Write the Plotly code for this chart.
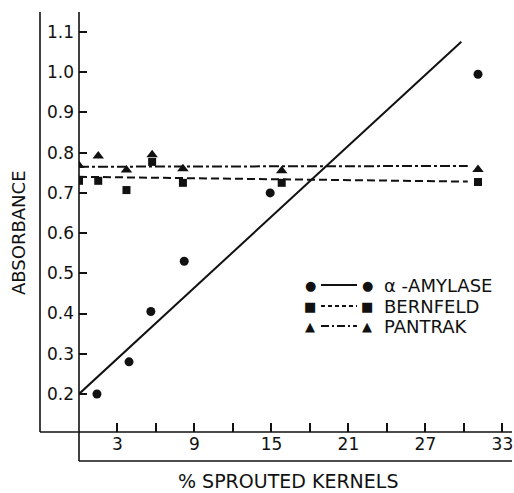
import plotly.graph_objects as go

# ---- data ----
amylase_x = [1.4, 3.9, 5.6, 8.2, 14.9, 31.1]
amylase_y = [0.20, 0.28, 0.405, 0.53, 0.70, 0.995]
amylase_fit_x = [0.0, 29.8]
amylase_fit_y = [0.20, 1.076]

bernfeld_x = [0.0, 1.5, 3.7, 5.7, 8.1, 15.8, 31.1]
bernfeld_y = [0.73, 0.73, 0.707, 0.777, 0.725, 0.725, 0.727]
bernfeld_fit_x = [0.0, 30.3]
bernfeld_fit_y = [0.740, 0.728]

pantrak_x = [0.0, 1.5, 3.7, 5.7, 8.1, 15.8, 31.1]
pantrak_y = [0.768, 0.792, 0.757, 0.795, 0.76, 0.755, 0.758]
pantrak_fit_x = [0.0, 30.3]
pantrak_fit_y = [0.765, 0.767]

x_tick_vals = [3, 6, 9, 12, 15, 18, 21, 24, 27, 30, 33]
x_tick_text = ["3", "", "9", "", "15", "", "21", "", "27", "", "33"]
y_tick_vals = [0.2, 0.3, 0.4, 0.5, 0.6, 0.7, 0.8, 0.9, 1.0, 1.1]
y_tick_text = ["0.2", "0.3", "0.4", "0.5", "0.6", "0.7", "0.8", "0.9", "1.0", "1.1"]

legend_names = ["\u03b1 -AMYLASE", "BERNFELD", "PANTRAK"]

# ---- layout geometry (pixels) ----
W, H = 514, 493
L, R, T, B = 79, 2, 12, 61
PW, PH = W - L - R, H - T - B
X_SCALE = 12.83  # px per x unit

def px(xp):
    return (xp - L) / PW

def py(yp):
    return (H - B - yp) / PH

FONT = "DejaVu Sans"
BLACK = "#111111"

fig = go.Figure()

fig.add_trace(go.Scatter(x=amylase_fit_x, y=amylase_fit_y, mode="lines",
                         line=dict(color=BLACK, width=2), showlegend=False))
fig.add_trace(go.Scatter(x=bernfeld_fit_x, y=bernfeld_fit_y, mode="lines",
                         line=dict(color=BLACK, width=2, dash="8px,4px"), showlegend=False))
fig.add_trace(go.Scatter(x=pantrak_fit_x, y=pantrak_fit_y, mode="lines",
                         line=dict(color=BLACK, width=2, dash="10px,3px,3px,3px"), showlegend=False))

fig.add_trace(go.Scatter(x=amylase_x, y=amylase_y, mode="markers",
                         marker=dict(symbol="circle", size=9, color=BLACK), showlegend=False))
fig.add_trace(go.Scatter(x=bernfeld_x, y=bernfeld_y, mode="markers",
                         marker=dict(symbol="square", size=8, color=BLACK), showlegend=False))
fig.add_trace(go.Scatter(x=pantrak_x, y=pantrak_y, mode="markers",
                         marker=dict(symbol="triangle-up", size=10, color=BLACK), showlegend=False))

shapes = []
# outer frame lines (drafting-style boxes for tick labels)
lw = 1.6
shapes.append(dict(type="line", xref="paper", yref="paper",
                   x0=px(40), x1=px(40), y0=py(432), y1=py(12),
                   line=dict(color=BLACK, width=lw)))
shapes.append(dict(type="line", xref="paper", yref="paper",
                   x0=px(40), x1=px(512), y0=py(432), y1=py(432),
                   line=dict(color=BLACK, width=lw)))
shapes.append(dict(type="line", xref="paper", yref="paper",
                   x0=px(79), x1=px(79), y0=py(461), y1=py(12),
                   line=dict(color=BLACK, width=lw)))
shapes.append(dict(type="line", xref="paper", yref="paper",
                   x0=px(79), x1=px(512), y0=py(461), y1=py(461),
                   line=dict(color=BLACK, width=lw)))

# custom legend
rows = [285, 306, 326]
dashes = ["solid", "4px,3px", "8px,3px,2px,3px"]
symbols = [("\u25cf", "\u25cf"), ("\u25a0", "\u25a0"), ("\u25b2", "\u25b2")]
annotations = []
for ry, d, (s1, s2), name in zip(rows, dashes, symbols, legend_names):
    shapes.append(dict(type="line", xref="paper", yref="paper",
                       x0=px(321), x1=px(357), y0=py(ry), y1=py(ry),
                       line=dict(color=BLACK, width=2, dash=d)))
    for xx, s in ((310, s1), (367, s2)):
        annotations.append(dict(xref="paper", yref="paper", x=px(xx), y=py(ry),
                                text=s, showarrow=False, xanchor="center", yanchor="middle",
                                font=dict(family=FONT, size=13, color=BLACK)))
    annotations.append(dict(xref="paper", yref="paper", x=px(382), y=py(ry),
                            text=name, showarrow=False, xanchor="left", yanchor="middle",
                            font=dict(family=FONT, size=18, color=BLACK)))

annotations.append(dict(xref="paper", yref="paper", x=px(18), y=py(232),
                        text="ABSORBANCE", showarrow=False, textangle=-90,
                        xanchor="center", yanchor="middle",
                        font=dict(family=FONT, size=18, color=BLACK)))
annotations.append(dict(xref="paper", yref="paper", x=px(288), y=py(481),
                        text="% SPROUTED KERNELS", showarrow=False,
                        xanchor="center", yanchor="middle",
                        font=dict(family=FONT, size=19, color=BLACK)))

fig.update_layout(
    width=W, height=H,
    margin=dict(l=L, r=R, t=T, b=B),
    paper_bgcolor="white", plot_bgcolor="white",
    shapes=shapes, annotations=annotations,
    showlegend=False,
    font=dict(family=FONT, color=BLACK),
)
fig.update_xaxes(range=[0, PW / X_SCALE], tickmode="array", tickvals=x_tick_vals,
                 ticktext=x_tick_text, ticks="inside", ticklen=9, tickwidth=1.5,
                 tickcolor=BLACK, showgrid=False, zeroline=False, showline=False,
                 ticklabeloverflow="allow",
                 tickfont=dict(family=FONT, size=17, color=BLACK))
fig.update_yaxes(range=[0.2 - 38 / 402, 1.1 + 20 / 402], tickmode="array",
                 tickvals=y_tick_vals, ticktext=y_tick_text, ticks="inside",
                 ticklen=8, tickwidth=1.5, tickcolor=BLACK, showgrid=False,
                 zeroline=False, showline=False, ticklabelstandoff=4,
                 tickfont=dict(family=FONT, size=17, color=BLACK))

fig.write_html("out.html", config={"displayModeBar": False},
               post_script="document.body.style.margin='0';document.body.style.overflow='hidden';")
